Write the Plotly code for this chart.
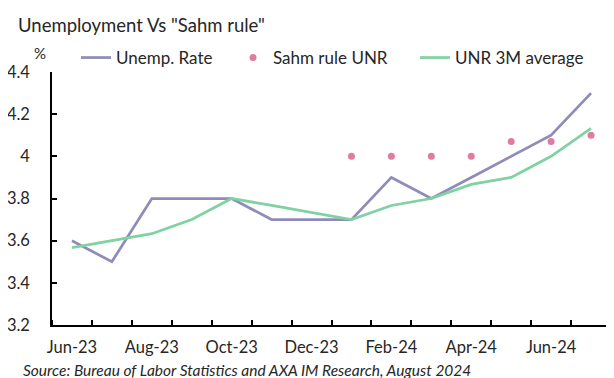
import plotly.graph_objects as go

months = ["Jun-23", "Jul-23", "Aug-23", "Sep-23", "Oct-23", "Nov-23", "Dec-23",
          "Jan-24", "Feb-24", "Mar-24", "Apr-24", "May-24", "Jun-24", "Jul-24"]
unemp_rate = [3.6, 3.5, 3.8, 3.8, 3.8, 3.7, 3.7, 3.7, 3.9, 3.8, 3.9, 4.0, 4.1, 4.3]
unr_3m_avg = [3.567, 3.6, 3.633, 3.7, 3.8, 3.767, 3.733, 3.7, 3.767, 3.8, 3.867, 3.9, 4.0, 4.133]
sahm_unr = [None, None, None, None, None, None, None, 4.0, 4.0, 4.0, 4.0, 4.07, 4.07, 4.1]
y_ticks = [3.2, 3.4, 3.6, 3.8, 4.0, 4.2, 4.4]
y_tick_text = ["3.2", "3.4", "3.6", "3.8", "4", "4.2", "4.4"]

idx = list(range(len(months)))
FONT = "Lato"
TXT = "#262626"
PW, PH = 559, 253  # plot area size

fig = go.Figure()
fig.add_trace(go.Scatter(x=idx, y=unemp_rate, mode="lines", name="Unemp. Rate",
                         line=dict(color="#908CBA", width=2.75), legend="legend"))
fig.add_trace(go.Scatter(x=idx, y=sahm_unr, mode="markers", name="Sahm rule UNR",
                         marker=dict(color="#E07D9E", size=7), legend="legend2"))
fig.add_trace(go.Scatter(x=idx, y=unr_3m_avg, mode="lines", name="UNR 3M average",
                         line=dict(color="#80D2A3", width=2.75), legend="legend3"))

leg_common = dict(orientation="h", yanchor="middle", y=1 + 14 / PH, xanchor="left",
                  bgcolor="rgba(0,0,0,0)", font=dict(family=FONT, size=17, color=TXT))
fig.update_layout(
    width=614, height=378,
    margin=dict(l=44, r=11, t=64, b=61, autoexpand=False),
    paper_bgcolor="white", plot_bgcolor="white",
    font=dict(family=FONT, size=16.5, color=TXT),
    showlegend=True,
    legend=dict(x=(68 - 44) / PW, **leg_common),
    legend2=dict(x=(225 - 44) / PW, **leg_common),
    legend3=dict(x=(407 - 44) / PW, **leg_common),
    xaxis=dict(range=[-0.5, len(months) - 0.5], tickvals=idx[::2], ticktext=months[::2],
               ticks="", showline=True, linecolor="black", linewidth=1.5, showgrid=False,
               zeroline=False, tickfont=dict(family=FONT, size=16.5, color=TXT),
               ticklabelstandoff=6, automargin=False,
               minor=dict(ticks="inside", tick0=-0.5, dtick=1, ticklen=5, tickcolor="black",
                          tickwidth=1.5, showgrid=False)),
    yaxis=dict(range=[3.2, 4.4], tickvals=y_ticks, ticktext=y_tick_text,
               ticks="inside", ticklen=5, tickcolor="black", tickwidth=1.5,
               showline=True, linecolor="black", linewidth=1.5, showgrid=False, zeroline=False,
               tickfont=dict(family=FONT, size=16.5, color=TXT), ticklabelstandoff=17,
               automargin=False),
)
fig.add_annotation(text="Unemployment Vs \"Sahm rule\"", xref="paper", yref="paper",
                   x=-36 / PW, y=1 + (64 - 17) / PH, xanchor="left", yanchor="middle",
                   showarrow=False, font=dict(family=FONT, size=18.5, color=TXT))
fig.add_annotation(text="%", xref="paper", yref="paper", x=-12 / PW, y=1 + (64 - 45) / PH,
                   xanchor="center", yanchor="middle", showarrow=False,
                   font=dict(family=FONT, size=15, color=TXT))
fig.add_annotation(text="<i>Source: Bureau of Labor Statistics and AXA IM Research, August 2024</i>",
                   xref="paper", yref="paper", x=-31 / PW, y=-(362 - 317) / PH,
                   xanchor="left", yanchor="middle", showarrow=False,
                   font=dict(family=FONT, size=15.5, color=TXT))

fig.write_html("out.html")
